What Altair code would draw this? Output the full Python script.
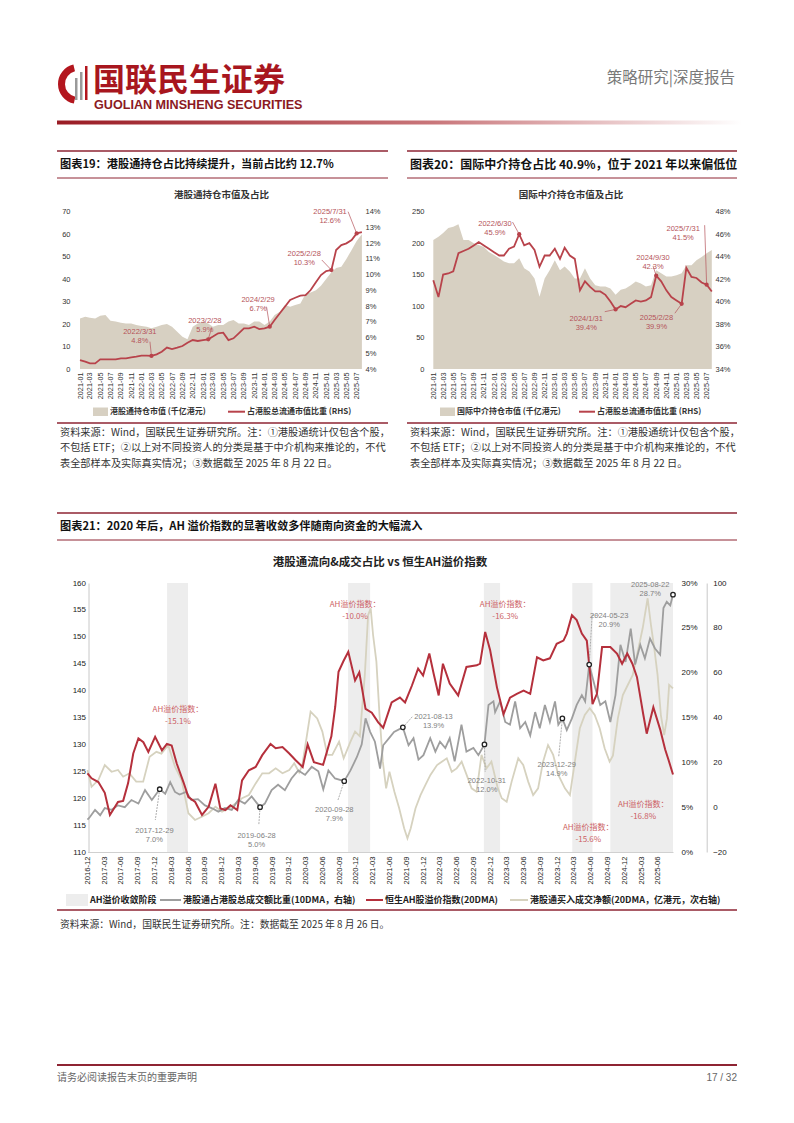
import altair as alt
import pandas as pd

W, H = 778, 1107
OFF = 8
FONT = "Noto Sans CJK SC"
NUM = "Liberation Sans"

MAROON = "#8E2433"
RED = "#B8434B"
RED21 = "#B5303C"
BEIGE = "#D7D0C2"
GREY21 = "#9E9E9E"
KHAKI = "#D6D2BF"
BAND = "#EDEDED"
ANN_RED = "#B5535A"
ANN_RED21 = "#CC5F64"
ANN_GREY = "#7F7F7F"


def P(v):
    return v - OFF


def DT(y, m, d=1):
    return alt.DateTime(year=y, month=m, date=d)


def axis(orient, offset, **kw):
    base = dict(orient=orient, offset=offset, title=None, grid=False, domain=False,
                ticks=False, tickSize=0, labelFont=NUM, labelFontSize=7.5,
                labelColor="#333333", labelOverlap=False, labelFlush=False)
    base.update(kw)
    return alt.Axis(**base)


# ------------------------------------------------------------------ data: chart 19
c19_months = pd.date_range("2021-01-01", "2025-08-01", freq="MS")
c19_mv = [22.5, 23.3, 22.8, 22.5, 23.7, 24.0, 21.5, 21.1, 20.6, 20.3, 20.3, 19.6,
          19.1, 18.8, 18.1, 18.8, 19.6, 20.0, 18.8, 16.6, 14.4, 13.2, 18.8, 20.3,
          21.1, 20.3, 18.8, 19.6, 19.6, 21.1, 21.8, 20.3, 20.3, 19.6, 21.1, 21.1,
          19.6, 21.1, 24.0, 25.5, 28.5, 27.7, 28.5, 29.2, 33.5, 34.0, 35.0, 37.0,
          40.0, 43.0, 45.0, 45.5, 49.0, 53.0, 57.0, 60.0]
c19_share = [4.57, 4.47, 4.36, 4.36, 4.61, 4.61, 4.61, 4.61, 4.68, 4.68, 4.74, 4.78,
             4.85, 4.85, 4.83, 4.93, 5.10, 5.36, 5.27, 5.36, 5.46, 5.67, 5.84, 5.78,
             5.84, 5.89, 6.06, 6.27, 6.31, 5.84, 5.95, 6.27, 6.58, 6.58, 6.69, 6.54,
             6.58, 6.69, 7.11, 7.54, 7.96, 8.39, 8.53, 8.66, 8.70, 9.02, 9.51, 9.97,
             10.23, 10.29, 11.56, 11.88, 11.99, 12.20, 12.62, 12.70]
ann19_mdate = ["2022-03-01", "2023-02-01", "2024-02-01", "2025-02-01", "2025-07-01"]
ann19_mval = [4.83, 5.89, 6.69, 10.29, 12.62]
ann19_ldate = ["2021-12-22", "2023-01-12", "2023-11-24", "2024-08-24", "2025-01-24"]
ann19_lval = [6.35, 7.08, 8.39, 11.31, 13.98]
ann19_cdate = ["2022-02-20", "2023-02-21", "2024-01-13", "2024-12-06", "2025-05-11"]
ann19_cval = [5.74, 6.59, 7.96, 10.93, 14.0]
ann19_text = ["2022/3/31\n4.8%", "2023/2/28\n5.9%", "2024/2/29\n6.7%", "2025/2/28\n10.3%", "2025/7/31\n12.6%"]

# ------------------------------------------------------------------ data: chart 20
c20_months = pd.date_range("2021-01-01", "2025-08-01", freq="MS")
c20_mv = [205, 210, 216, 224, 226, 230, 205, 205, 200, 197, 194, 186,
          181, 176, 171, 168, 168, 176, 160, 155, 144, 115, 144, 157,
          173, 157, 163, 155, 144, 144, 160, 144, 133, 131, 131, 128,
          118, 126, 128, 133, 139, 136, 131, 133, 157, 152, 147, 147,
          149, 152, 165, 165, 173, 178, 184, 189]
c20_share = [41.9, 40.4, 42.4, 42.5, 42.7, 44.3, 44.5, 44.7, 45.0, 45.3, 45.0, 44.7,
             44.4, 44.1, 44.1, 44.7, 44.9, 46.0, 45.0, 45.2, 44.6, 43.1, 44.1, 44.1,
             44.7, 43.8, 44.8, 44.1, 43.8, 41.0, 41.8, 41.3, 40.9, 40.9, 40.6, 40.0,
             39.3, 39.6, 39.5, 39.8, 40.1, 40.0, 40.1, 40.4, 42.3, 41.8, 41.0, 40.4,
             40.1, 39.8, 43.0, 42.2, 42.1, 41.7, 41.5, 40.9]
ann20_mdate = ["2022-06-01", "2024-01-01", "2024-09-01", "2025-02-01", "2025-07-01"]
ann20_mval = [46.0, 39.3, 42.3, 39.8, 41.5]
ann20_ldate = ["2022-01-06", "2023-07-09", "2024-08-13", "2024-09-03", "2025-02-10"]
ann20_lval = [46.9, 38.45, 43.85, 38.58, 46.46]
ann20_cdate = ["2022-04-22", "2023-10-28", "2024-08-13", "2024-12-22", "2025-06-19"]
ann20_cval = [47.08, 39.1, 43.17, 38.96, 46.8]
ann20_text = ["2022/6/30\n45.9%", "2024/1/31\n39.4%", "2024/9/30\n42.3%", "2025/2/28\n39.9%", "2025/7/31\n41.5%"]

# ------------------------------------------------------------------ data: chart 21
ah_dates = ["2016-12-01", "2016-12-23", "2017-01-29", "2017-03-05", "2017-04-02", "2017-04-19", "2017-05-16",
            "2017-06-13", "2017-07-10", "2017-08-07", "2017-09-04", "2017-10-01", "2017-10-28", "2017-12-04",
            "2018-01-10", "2018-02-06", "2018-03-04", "2018-04-01", "2018-05-07", "2018-06-03", "2018-07-10",
            "2018-08-16", "2018-09-21", "2018-10-28", "2018-11-24", "2018-12-21", "2019-01-18", "2019-02-24",
            "2019-03-22", "2019-04-28", "2019-06-04", "2019-07-10", "2019-08-24", "2019-09-21", "2019-10-28",
            "2019-12-04", "2020-01-09", "2020-02-15", "2020-03-13", "2020-04-16", "2020-06-05", "2020-07-20",
            "2020-08-10", "2020-08-28", "2020-09-24", "2020-10-20", "2020-11-26", "2020-12-19", "2021-01-22",
            "2021-02-25", "2021-04-01", "2021-04-28", "2021-06-13", "2021-07-28", "2021-08-25", "2021-10-01",
            "2021-11-04", "2021-12-01", "2022-01-04", "2022-01-28", "2022-02-24", "2022-03-19", "2022-04-25",
            "2022-06-10", "2022-07-25", "2022-09-19", "2022-10-07", "2022-11-04", "2022-12-01", "2023-01-07",
            "2023-02-12", "2023-03-19", "2023-04-25", "2023-06-01", "2023-07-07", "2023-08-13", "2023-09-16",
            "2023-10-22", "2023-11-28", "2024-01-04", "2024-01-22", "2024-02-19", "2024-03-16", "2024-04-13",
            "2024-05-10", "2024-05-28", "2024-06-10", "2024-07-04", "2024-08-01", "2024-09-15", "2024-10-21",
            "2024-11-18", "2024-12-16", "2025-01-13", "2025-02-07", "2025-03-13", "2025-04-01", "2025-05-07",
            "2025-06-13", "2025-07-10", "2025-07-28", "2025-08-22"]
ah_values = [124.6, 123.7, 123.0, 121.0, 116.9, 117.8, 119.3, 119.5, 122.8, 128.3, 131.1, 130.4, 128.6, 131.4,
             128.9, 130.1, 129.8, 126.4, 123.0, 120.2, 119.3, 116.9, 118.4, 122.7, 118.1, 117.8, 118.7, 117.8,
             123.3, 125.2, 125.8, 128.0, 130.1, 129.3, 129.5, 128.3, 127.0, 125.8, 130.0, 126.7, 126.2, 131.5,
             137.0, 143.5, 145.5, 147.2, 141.9, 143.4, 136.6, 135.9, 134.1, 133.1, 137.8, 138.7, 137.8, 140.9,
             144.1, 142.8, 146.9, 143.1, 139.1, 145.0, 141.3, 139.1, 144.4, 144.7, 145.0, 150.9, 147.5, 140.6,
             135.6, 138.7, 139.4, 140.0, 139.4, 146.2, 145.6, 146.0, 148.7, 149.3, 150.6, 154.0, 153.1, 150.6,
             149.3, 143.1, 137.5, 139.4, 148.1, 148.1, 146.9, 145.0, 146.9, 145.0, 142.5, 135.6, 132.0, 136.9,
             132.8, 129.1, 127.2, 124.4]

sh_dates = ["2016-12-01", "2016-12-14", "2017-01-11", "2017-02-08", "2017-03-05", "2017-04-11", "2017-05-16",
            "2017-06-22", "2017-07-28", "2017-09-04", "2017-10-10", "2017-11-16", "2017-12-29", "2018-01-28",
            "2018-02-24", "2018-03-22", "2018-04-16", "2018-05-22", "2018-06-19", "2018-07-25", "2018-09-01",
            "2018-10-07", "2018-11-13", "2018-12-19", "2019-01-25", "2019-03-01", "2019-04-06", "2019-05-13",
            "2019-06-28", "2019-07-24", "2019-08-30", "2019-10-04", "2019-11-10", "2019-12-16", "2020-01-22",
            "2020-02-28", "2020-04-04", "2020-05-10", "2020-06-06", "2020-07-04", "2020-08-09", "2020-09-28",
            "2020-11-01", "2020-12-06", "2021-01-01", "2021-01-22", "2021-02-16", "2021-03-14", "2021-04-11",
            "2021-04-28", "2021-05-30", "2021-06-26", "2021-08-13", "2021-09-13", "2021-10-10", "2021-11-06",
            "2021-12-03", "2022-01-09", "2022-02-06", "2022-03-03", "2022-04-01", "2022-04-25", "2022-05-22",
            "2022-06-28", "2022-07-25", "2022-09-01", "2022-09-28", "2022-10-31", "2022-11-22", "2022-12-19",
            "2022-12-28", "2023-01-24", "2023-02-21", "2023-03-19", "2023-04-16", "2023-05-13", "2023-06-10",
            "2023-07-07", "2023-08-03", "2023-08-28", "2023-09-25", "2023-10-22", "2023-11-19", "2023-12-07",
            "2023-12-29", "2024-01-22", "2024-02-19", "2024-03-16", "2024-04-13", "2024-05-01", "2024-05-23",
            "2024-06-25", "2024-07-22", "2024-08-19", "2024-09-15", "2024-10-13", "2024-11-09", "2024-12-07",
            "2025-01-04", "2025-01-28", "2025-02-25", "2025-03-22", "2025-04-19", "2025-05-16", "2025-06-13",
            "2025-07-01", "2025-07-19", "2025-08-07", "2025-08-22"]
sh_values = [3.6, 3.9, 4.7, 4.1, 4.9, 4.7, 5.2, 5.0, 5.8, 5.4, 6.9, 5.8, 7.0, 6.5, 7.8, 6.7, 6.4, 6.7, 5.8, 5.9,
             5.2, 4.9, 4.5, 4.9, 4.7, 5.8, 5.4, 6.2, 5.0, 5.4, 6.9, 7.5, 6.9, 8.2, 9.1, 8.6, 9.5, 9.0, 7.0, 9.1,
             8.2, 7.9, 9.1, 10.6, 12.0, 14.9, 13.4, 12.3, 9.3, 11.9, 12.7, 13.4, 13.9, 11.9, 12.7, 10.3, 10.8,
             12.7, 11.2, 12.3, 11.6, 12.7, 10.1, 14.2, 11.2, 11.6, 10.8, 12.0, 16.4, 16.8, 15.6, 16.8, 14.5,
             14.2, 16.8, 13.8, 14.5, 13.0, 15.6, 13.8, 16.4, 14.5, 16.8, 14.2, 14.9, 13.6, 14.9, 16.4, 17.5,
             16.8, 20.9, 18.3, 16.4, 16.8, 14.5, 17.5, 23.1, 21.2, 24.9, 20.9, 23.1, 21.6, 23.8, 22.7, 22.0,
             27.2, 27.9, 27.5, 28.7]

fl_dates = ["2016-12-01", "2016-12-23", "2017-01-29", "2017-03-05", "2017-04-11", "2017-05-16", "2017-06-13",
            "2017-07-17", "2017-08-23", "2017-09-30", "2017-11-04", "2017-12-11", "2018-01-07", "2018-02-13",
            "2018-03-22", "2018-04-27", "2018-06-03", "2018-07-09", "2018-08-15", "2018-09-21", "2018-10-28",
            "2018-12-03", "2019-01-08", "2019-02-14", "2019-03-22", "2019-04-28", "2019-06-04", "2019-07-10",
            "2019-08-16", "2019-09-21", "2019-10-28", "2019-12-04", "2019-12-31", "2020-01-27", "2020-02-13",
            "2020-03-29", "2020-05-04", "2020-06-01", "2020-06-28", "2020-07-25", "2020-08-31", "2020-09-25",
            "2020-11-01", "2020-11-26", "2020-12-22", "2021-01-18", "2021-02-05", "2021-02-19", "2021-03-04",
            "2021-03-22", "2021-04-08", "2021-04-26", "2021-05-14", "2021-06-01", "2021-06-28", "2021-07-24",
            "2021-08-20", "2021-09-07", "2021-09-25", "2021-10-21", "2021-11-17", "2021-12-14", "2022-01-10",
            "2022-02-15", "2022-03-13", "2022-04-09", "2022-05-06", "2022-06-02", "2022-06-29", "2022-07-26",
            "2022-08-22", "2022-09-18", "2022-10-15", "2022-11-11", "2022-12-08", "2023-01-10", "2023-02-02",
            "2023-03-01", "2023-03-28", "2023-05-03", "2023-05-30", "2023-06-26", "2023-07-23", "2023-08-19",
            "2023-09-15", "2023-10-12", "2023-11-09", "2023-12-07", "2024-01-12", "2024-02-08", "2024-03-06",
            "2024-04-02", "2024-04-29", "2024-05-26", "2024-06-22", "2024-07-19", "2024-08-15", "2024-09-11",
            "2024-09-29", "2024-10-26", "2024-11-22", "2024-12-19", "2025-01-15", "2025-02-11", "2025-03-10",
            "2025-04-06", "2025-04-24", "2025-05-12", "2025-05-30", "2025-06-17", "2025-07-05", "2025-07-20",
            "2025-08-01", "2025-08-22"]
fl_values = [16.6, 9.1, 12.1, 18.8, 15.8, 16.6, 13.6, 15.1, 11.4, 11.4, 22.5, 24.7, 23.9, 27.7, 18.1, 12.1,
             -2.7, -5.7, -4.3, -2.7, 0.2, -2.0, -0.6, 1.7, 4.0, 5.4, 10.6, 15.1, 15.1, 17.3, 15.1, 16.6, 19.6,
             15.5, 18.8, 42.6, 39.6, 33.7, 23.3, 23.3, 29.2, 21.8, 29.2, 33.7, 31.6, 59.0, 85.7, 88.7, 76.8,
             64.9, 41.1, 20.3, 8.4, 15.8, 6.9, -0.5, -9.4, -13.9, -9.4, -0.5, 5.4, 9.9, 14.4, 18.8, 20.3, 21.8,
             15.8, 17.3, 20.3, 14.4, 8.4, 6.9, 23.3, 17.3, 20.3, 9.0, 4.0, 2.4, 11.4, 21.8, 18.8, 11.4, 5.4,
             8.4, 20.3, 27.7, 23.3, 14.4, 8.4, 5.4, 20.3, 35.2, 41.1, 44.1, 41.1, 35.2, 26.3, 20.3, 23.0, 39.6,
             50.0, 54.5, 59.0, 69.4, 79.8, 93.2, 81.3, 70.9, 59.0, 41.1, 32.2, 39.6, 54.5, 53.0]

band_start = ["2018-02-07", "2020-10-19", "2022-10-28", "2024-02-21", "2024-09-15"]
band_end = ["2018-06-01", "2021-02-16", "2023-01-24", "2024-06-10", "2025-08-22"]

ahlab_date = ["2018-04-07", "2020-11-26", "2023-02-21", "2024-05-18", "2025-03-13"]
ahlab_val = [136.4, 156.0, 156.0, 114.5, 118.7]
ahlab_text = ["AH溢价指数：\n-15.1%", "AH溢价指数：\n-10.0%", "AH溢价指数：\n-16.3%",
              "AH溢价指数：\n-15.6%", "AH溢价指数：\n-16.8%"]

mk_date = ["2017-12-29", "2019-06-28", "2020-09-28", "2021-08-13", "2022-10-31", "2023-12-29", "2024-05-23", "2025-08-22"]
mk_val = [7.0, 5.0, 7.9, 13.9, 12.0, 14.9, 20.9, 28.7]
mk_ldate = ["2017-11-30", "2019-06-09", "2020-08-05", "2022-01-27", "2022-11-13", "2023-11-28", "2024-09-09", "2025-04-20"]
mk_lval = [2.34, 1.84, 4.68, 15.06, 7.92, 9.65, 26.3, 29.83]
mk_text = ["2017-12-29\n7.0%", "2019-06-28\n5.0%", "2020-09-28\n7.9%", "2021-08-13\n13.9%",
           "2022-10-31\n12.0%", "2023-12-29\n14.9%", "2024-05-23\n20.9%", "2025-08-22\n28.7%"]
cn_d1 = ["2017-12-29", "2019-06-28", "2020-09-28", "2021-08-13", "2022-10-31", "2023-12-29", "2024-05-23", "2024-06-08"]
cn_v1 = [7.0, 5.0, 7.9, 13.9, 12.0, 14.9, 20.9, 26.4]
cn_d2 = ["2017-12-05", "2019-06-21", "2020-08-25", "2021-10-07", "2022-11-04", "2023-12-09", "2024-06-08", "2024-07-15"]
cn_v2 = [3.57, 3.0, 5.8, 15.17, 8.92, 10.6, 26.4, 26.4]

# ------------------------------------------------------------------ helpers for page furniture


def tx(rows, size, color="#333333", weight="normal", align="left", font=FONT):
    df = pd.DataFrame(rows, columns=["x", "y", "t"])
    df["x"] = df["x"] - OFF
    df["y"] = df["y"] - OFF
    return alt.Chart(df).mark_text(fontSize=size, color=color, fontWeight=weight, align=align,
                                   baseline="middle", font=font).encode(
        x=alt.X("x:Q", scale=None, axis=None), y=alt.Y("y:Q", scale=None, axis=None), text="t:N")


def rules(rows, color, width):
    df = pd.DataFrame(rows, columns=["x", "y", "x2", "y2"]) - OFF
    return alt.Chart(df).mark_rule(color=color, strokeWidth=width).encode(
        x=alt.X("x:Q", scale=None, axis=None), y=alt.Y("y:Q", scale=None, axis=None), x2="x2:Q", y2="y2:Q")


def rects(rows, color):
    df = pd.DataFrame(rows, columns=["x", "y", "x2", "y2"]) - OFF
    return alt.Chart(df).mark_rect(color=color).encode(
        x=alt.X("x:Q", scale=None, axis=None), y=alt.Y("y:Q", scale=None, axis=None), x2="x2:Q", y2="y2:Q")


layers = []

# ------------------------------------------------------------------ header
grad = alt.Gradient(gradient="linear",
                    stops=[alt.GradientStop(color="#9A1B24", offset=0),
                           alt.GradientStop(color="#C9767A", offset=0.55),
                           alt.GradientStop(color="#FFFFFF", offset=1)],
                    x1=0, x2=1, y1=0, y2=0)
bar_df = pd.DataFrame({"x": [P(57)], "x2": [P(742)], "y": [P(120.5)], "y2": [P(124.5)]})
layers.append(alt.Chart(bar_df).mark_rect(color=grad).encode(
    x=alt.X("x:Q", scale=None, axis=None), y=alt.Y("y:Q", scale=None, axis=None), x2="x2:Q", y2="y2:Q"))
logo_df = pd.DataFrame({"x": [P(78)], "y": [P(84)]})
layers.append(alt.Chart(logo_df).mark_arc(radius=20, radius2=13, theta=3.35, theta2=6.05, color="#B3161E").encode(
    x=alt.X("x:Q", scale=None, axis=None), y=alt.Y("y:Q", scale=None, axis=None)))
layers.append(rects([(75, 78, 77.5, 100), (80, 72, 82.5, 100)], "#9A9A9A"))
layers.append(rects([(85, 66, 87.5, 100)], "#B3161E"))
layers.append(tx([(93, 80.5, "国联民生证券")], 32, color="#A8161E", weight="bold"))
layers.append(tx([(94, 104.5, "GUOLIAN MINSHENG SECURITIES")], 12.6, color="#8B1A1F", weight="bold", font=NUM))
layers.append(tx([(735, 78, "策略研究|深度报告")], 15.5, color="#7A7A7A", align="right"))

# ------------------------------------------------------------------ block frames & titles
layers.append(rules([(57, 151, 388, 151), (407, 151, 737, 151), (57, 513, 737, 513),
                     (57, 423, 388, 423), (407, 423, 737, 423), (57, 910, 737, 910)], MAROON, 1.5))
layers.append(rules([(57, 178, 388, 178), (407, 178, 737, 178), (57, 540, 737, 540)], MAROON, 1))
layers.append(rules([(57, 1065, 737, 1065)], MAROON, 2))
layers.append(tx([(60, 165, "图表19：港股通持仓占比持续提升，当前占比约 12.7%"),
                  (60, 527, "图表21：2020 年后，AH 溢价指数的显著收敛多伴随南向资金的大幅流入")],
                 11.2, color="#111111", weight="bold"))
layers.append(tx([(410, 165, "图表20：国际中介持仓占比 40.9%，位于 2021 年以来偏低位")],
                 12, color="#111111", weight="bold"))
layers.append(tx([(221.5, 195, "港股通持仓市值及占比"), (571, 195, "国际中介持仓市值及占比")],
                 9.5, color="#333333", weight="bold", align="center"))
layers.append(tx([(380, 563, "港股通流向&成交占比 vs 恒生AH溢价指数")], 11.5, color="#222222",
                 weight="bold", align="center"))
note1 = "资料来源：Wind，国联民生证券研究所。注：①港股通统计仅包含个股，"
note2 = "不包括 ETF；②以上对不同投资人的分类是基于中介机构来推论的，不代"
note3 = "表全部样本及实际真实情况；③数据截至 2025 年 8 月 22 日。"
layers.append(tx([(60, 432.5, note1), (60, 448, note2), (60, 463.5, note3),
                  (410, 432.5, note1), (410, 448, note2), (410, 463.5, note3)], 10.2, color="#333333"))
layers.append(tx([(60, 925, "资料来源：Wind，国联民生证券研究所。注：数据截至 2025 年 8 月 26 日。")],
                 9.8, color="#333333"))
layers.append(tx([(57, 1078, "请务必阅读报告末页的重要声明")], 10, color="#666666"))
layers.append(tx([(737, 1078, "17 / 32")], 10, color="#666666", align="right", font=NUM))

# legends
layers.append(rects([(93, 407.5, 108, 416), (440, 407.5, 455, 416)], BEIGE))
layers.append(rules([(228, 411.7, 245, 411.7), (579, 411.7, 595, 411.7)], RED, 2))
layers.append(tx([(110, 411.7, "港股通持仓市值 (千亿港元)"), (247, 411.7, "占港股总流通市值比重 (RHS)"),
                  (457, 411.7, "国际中介持仓市值 (千亿港元)"), (597, 411.7, "占港股总流通市值比重 (RHS)")],
                 8, color="#333333", weight="bold"))
layers.append(rects([(66, 894, 88, 906)], BAND))
layers.append(rules([(160, 900, 181, 900)], GREY21, 2))
layers.append(rules([(366, 900, 383, 900)], RED21, 2))
layers.append(rules([(510, 900, 528, 900)], KHAKI, 2))
layers.append(tx([(90, 900, "AH溢价收敛阶段"), (183, 900, "港股通占港股总成交额比重(10DMA，右轴)"),
                  (385, 900, "恒生AH股溢价指数(20DMA)"), (530, 900, "港股通买入成交净额(20DMA，亿港元，次右轴)")],
                 9, color="#222222", weight="bold"))

# ------------------------------------------------------------------ chart 19 & 20 (same structure)
vals_2m = [DT(2021 + k // 12, k % 12 + 1) for k in range(0, 55, 2)]


def holding_chart(months, mv, share, ymax, lo, hi, x0, x1, yl_pos, yr_pos, ann):
    df = pd.DataFrame({"date": months, "mv": mv, "share": share})
    xs = alt.Scale(type="time", domain=[DT(2021, 1), DT(2025, 8)], range=[P(x0), P(x1)], nice=False)
    yl = alt.Scale(domain=[0, ymax], range=[P(369), P(211.7)], nice=False, zero=False)
    yr = alt.Scale(domain=[lo, hi], range=[P(369), P(211.7)], nice=False, zero=False)
    step = 10 if ymax == 70 else 50
    out = []
    out.append(alt.Chart(df).mark_area(color=BEIGE).encode(
        x=alt.X("date:T", scale=xs, axis=axis("bottom", P(369) - H, values=vals_2m, format="%Y-%m",
                                              labelAngle=270, labelPadding=3, labelFontSize=7.3)),
        y=alt.Y("mv:Q", scale=yl, axis=axis("left", -P(yl_pos), values=list(range(0, ymax + 1, step)),
                                            labelPadding=6))))
    out.append(alt.Chart(df).mark_line(color=RED, strokeWidth=1.8).encode(
        x=alt.X("date:T", scale=xs, axis=None),
        y=alt.Y("share:Q", scale=yr, axis=axis("right", P(yr_pos) - W,
                                               values=list(range(lo, hi + 1, 1 if hi - lo == 10 else 2)),
                                               labelExpr="datum.value + '%'", labelPadding=3))))
    mdate, mval, ldate, lval, cdate, cval, text = ann
    adf = pd.DataFrame({"mdate": pd.to_datetime(mdate), "mval": mval, "ldate": pd.to_datetime(ldate),
                        "lval": lval, "cdate": pd.to_datetime(cdate), "cval": cval, "text": text})
    out.append(alt.Chart(adf).mark_rule(color=ANN_RED, strokeWidth=0.7).encode(
        x=alt.X("mdate:T", scale=xs, axis=None), y=alt.Y("mval:Q", scale=yr, axis=None),
        x2="cdate:T", y2="cval:Q"))
    out.append(alt.Chart(adf).mark_point(filled=True, color=RED, size=18, opacity=1).encode(
        x=alt.X("mdate:T", scale=xs, axis=None), y=alt.Y("mval:Q", scale=yr, axis=None)))
    out.append(alt.Chart(adf).mark_text(font=NUM, fontSize=7.5, color=ANN_RED, lineBreak="\n",
                                        lineHeight=9, baseline="middle").encode(
        x=alt.X("ldate:T", scale=xs, axis=None), y=alt.Y("lval:Q", scale=yr, axis=None), text="text:N"))
    return out


layers += holding_chart(c19_months, c19_mv, c19_share, 70, 4, 14, 80, 361.9, 76, 362,
                        (ann19_mdate, ann19_mval, ann19_ldate, ann19_lval, ann19_cdate, ann19_cval, ann19_text))
layers += holding_chart(c20_months, c20_mv, c20_share, 250, 34, 48, 433.3, 711.8, 430, 712,
                        (ann20_mdate, ann20_mval, ann20_ldate, ann20_lval, ann20_cdate, ann20_cval, ann20_text))

# ------------------------------------------------------------------ chart 21
x21 = alt.Scale(type="time", domain=[DT(2016, 12, 1), DT(2025, 8, 22)], range=[P(87.5), P(673)], nice=False)
yl21 = alt.Scale(domain=[110, 160], range=[P(852), P(583)], nice=False, zero=False)
yr21 = alt.Scale(domain=[0, 30], range=[P(852), P(583)], nice=False, zero=False)
ys21 = alt.Scale(domain=[-20, 100], range=[P(852), P(583)], nice=False, zero=False)
vals_q = [DT(2016 + (11 + k) // 12, (11 + k) % 12 + 1) for k in range(0, 103, 3)]

band_df = pd.DataFrame({"s": pd.to_datetime(band_start), "e": pd.to_datetime(band_end),
                        "top": [160] * len(band_start), "bot": [110] * len(band_start)})
layers.append(alt.Chart(band_df).mark_rect(color=BAND).encode(
    x=alt.X("s:T", scale=x21, axis=axis("bottom", P(852) - H, values=vals_q, format="%Y-%m", labelAngle=270,
                                      labelPadding=4, labelFontSize=7.6, labelColor="#222222",
                                      domain=True, domainColor="#D0D0D0", domainWidth=1)),
    x2="e:T",
    y=alt.Y("top:Q", scale=yl21, axis=axis("left", -P(88.5), values=list(range(110, 161, 5)),
                                          labelPadding=3, labelFontSize=8, labelColor="#222222",
                                          domain=True, domainColor="#C8C8C8", domainWidth=1)),
    y2="bot:Q"))

fl_df = pd.DataFrame({"date": pd.to_datetime(fl_dates), "v": fl_values})
layers.append(alt.Chart(fl_df).mark_line(color=KHAKI, strokeWidth=1.8).encode(
    x=alt.X("date:T", scale=x21, axis=None),
    y=alt.Y("v:Q", scale=ys21, axis=axis("right", P(706.7) - W, values=list(range(-20, 101, 20)),
                                        labelPadding=6, labelFontSize=8, labelColor="#222222",
                                        domain=True, domainColor="#C8C8C8", domainWidth=1))))
sh_df = pd.DataFrame({"date": pd.to_datetime(sh_dates), "v": sh_values})
layers.append(alt.Chart(sh_df).mark_line(color=GREY21, strokeWidth=1.8).encode(
    x=alt.X("date:T", scale=x21, axis=None),
    y=alt.Y("v:Q", scale=yr21, axis=axis("right", P(673) - W, values=list(range(0, 31, 5)),
                                        labelExpr="datum.value + '%'", labelPadding=8, labelFontSize=8,
                                        labelColor="#222222"))))
ah_df = pd.DataFrame({"date": pd.to_datetime(ah_dates), "v": ah_values})
layers.append(alt.Chart(ah_df).mark_line(color=RED21, strokeWidth=2).encode(
    x=alt.X("date:T", scale=x21, axis=None), y=alt.Y("v:Q", scale=yl21, axis=None)))

cn_df = pd.DataFrame({"d1": pd.to_datetime(cn_d1), "v1": cn_v1, "d2": pd.to_datetime(cn_d2), "v2": cn_v2})
layers.append(alt.Chart(cn_df).mark_rule(color="#8C8C8C", strokeWidth=0.7, strokeDash=[2, 1]).encode(
    x=alt.X("d1:T", scale=x21, axis=None), y=alt.Y("v1:Q", scale=yr21, axis=None), x2="d2:T", y2="v2:Q"))
mk_df = pd.DataFrame({"d": pd.to_datetime(mk_date), "v": mk_val, "ld": pd.to_datetime(mk_ldate),
                      "lv": mk_lval, "t": mk_text})
layers.append(alt.Chart(mk_df).mark_point(shape="circle", filled=True, fill="white", stroke="#222222",
                                          strokeWidth=1.3, size=20, opacity=1).encode(
    x=alt.X("d:T", scale=x21, axis=None), y=alt.Y("v:Q", scale=yr21, axis=None)))
layers.append(alt.Chart(mk_df).mark_text(font=NUM, fontSize=7.5, color=ANN_GREY, lineBreak="\n",
                                         lineHeight=9, baseline="middle").encode(
    x=alt.X("ld:T", scale=x21, axis=None), y=alt.Y("lv:Q", scale=yr21, axis=None), text="t:N"))
ahl_df = pd.DataFrame({"d": pd.to_datetime(ahlab_date), "v": ahlab_val, "t": ahlab_text})
layers.append(alt.Chart(ahl_df).mark_text(font=FONT, fontSize=8, color=ANN_RED21, lineBreak="\n",
                                          lineHeight=12, baseline="middle").encode(
    x=alt.X("d:T", scale=x21, axis=None), y=alt.Y("v:Q", scale=yl21, axis=None), text="t:N"))

chart = alt.layer(*layers).resolve_scale(x="independent", y="independent").resolve_axis(
    x="independent", y="independent").properties(
    width=W, height=H, padding=0, autosize=alt.AutoSizeParams(type="none"), background="white"
).configure_view(stroke=None)

chart.save("out.html", embed_options={"renderer": "svg", "actions": False})
